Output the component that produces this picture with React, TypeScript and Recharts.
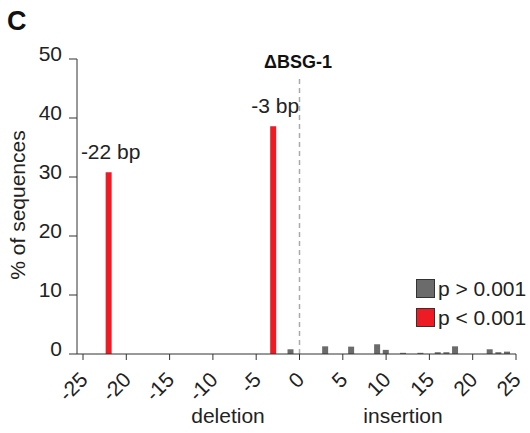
import { BarChart, Bar, XAxis, YAxis, ReferenceLine, LabelList, Cell } from 'recharts'

// significant indels (p < 0.001)
const redPos = [-22, -3]
const redPct = [30.8, 38.6]
const redLabels = ['-22 bp', '-3 bp']

// background indels (p > 0.001)
const grayPos = [-1, 3, 6, 9, 10, 12, 14, 16, 17, 18, 22, 23, 24]
const grayPct = [0.8, 1.3, 1.25, 1.65, 0.7, 0.2, 0.2, 0.3, 0.3, 1.3, 0.8, 0.3, 0.4]

const xTicks = [-25, -20, -15, -10, -5, 0, 5, 10, 15, 20, 25]
const yTicks = [0, 10, 20, 30, 40, 50]

const RED = '#ED1C24'
const GRAY = '#6b6b6b'
const AXIS = '#333'
const FONT = '"Liberation Sans", Arial, sans-serif'

const data = [
  ...redPos.map((p, i) => ({ pos: p, pct: redPct[i], sig: true, label: redLabels[i] })),
  ...grayPos.map((p, i) => ({ pos: p, pct: grayPct[i], sig: false, label: '' })),
].sort((a, b) => a.pos - b.pos)

const XTick = ({ x, y, payload }: any) => {
  const ax = x + 6
  const ay = y + 19
  return (
    <text x={ax} y={ay} transform={`rotate(-45 ${ax} ${ay})`} textAnchor="end" fontSize={21} fill="#222">
      {payload.value}
    </text>
  )
}

const BarLabel = ({ x, y, width, value }: any) => {
  if (!value) return null
  return (
    <text x={x + width / 2 + 2} y={y - 13} textAnchor="middle" fontSize={21} fill="#222">
      {value}
    </text>
  )
}

export default function App() {
  return (
    <div style={{ position: 'absolute', left: 0, top: 0, width: 530, height: 433, background: '#fff', fontFamily: FONT }}>
      <BarChart width={530} height={433} data={data} margin={{ top: 59, right: 14, left: 0, bottom: 0 }}>
        <XAxis
          dataKey="pos"
          type="number"
          domain={[-25, 25]}
          ticks={xTicks}
          interval={0}
          padding={{ left: 6, right: 0 }}
          height={79}
          stroke={AXIS}
          tickSize={6}
          tick={<XTick />}
        />
        <YAxis
          type="number"
          domain={[0, 50]}
          ticks={yTicks}
          interval={0}
          width={77}
          stroke={AXIS}
          tickSize={8}
          tickMargin={7}
          tick={{ fontSize: 21, fill: '#222', dy: -5 }}
        />
        <ReferenceLine
          segment={[{ x: 0, y: 0 }, { x: 0, y: 47 }]}
          stroke="#aaa"
          strokeWidth={1.5}
          strokeDasharray="5 4"
        />
        <Bar dataKey="pct" barSize={6} isAnimationActive={false}>
          {data.map((d, i) => (
            <Cell key={i} fill={d.sig ? RED : GRAY} />
          ))}
          <LabelList dataKey="label" content={<BarLabel />} />
        </Bar>

        <text x={7} y={30} fontSize={27} fontWeight="bold" fill="#111">C</text>
        <text x={298} y={68} textAnchor="middle" fontSize={18} fontWeight="bold" fill="#111">ΔBSG-1</text>
        <text transform="translate(25 205) rotate(-90)" textAnchor="middle" fontSize={21} fill="#222">% of sequences</text>
        <text x={228} y={423} textAnchor="middle" fontSize={21} fill="#222">deletion</text>
        <text x={403} y={423} textAnchor="middle" fontSize={21} fill="#222">insertion</text>

        <rect x={416.5} y={279.5} width={18} height={18} fill={GRAY} stroke="#333" />
        <text x={438} y={296} fontSize={21} fill="#222">p &gt; 0.001</text>
        <rect x={416.5} y={308.5} width={18} height={18} fill={RED} stroke="#333" />
        <text x={438} y={325} fontSize={21} fill="#222">p &lt; 0.001</text>
      </BarChart>
    </div>
  )
}
